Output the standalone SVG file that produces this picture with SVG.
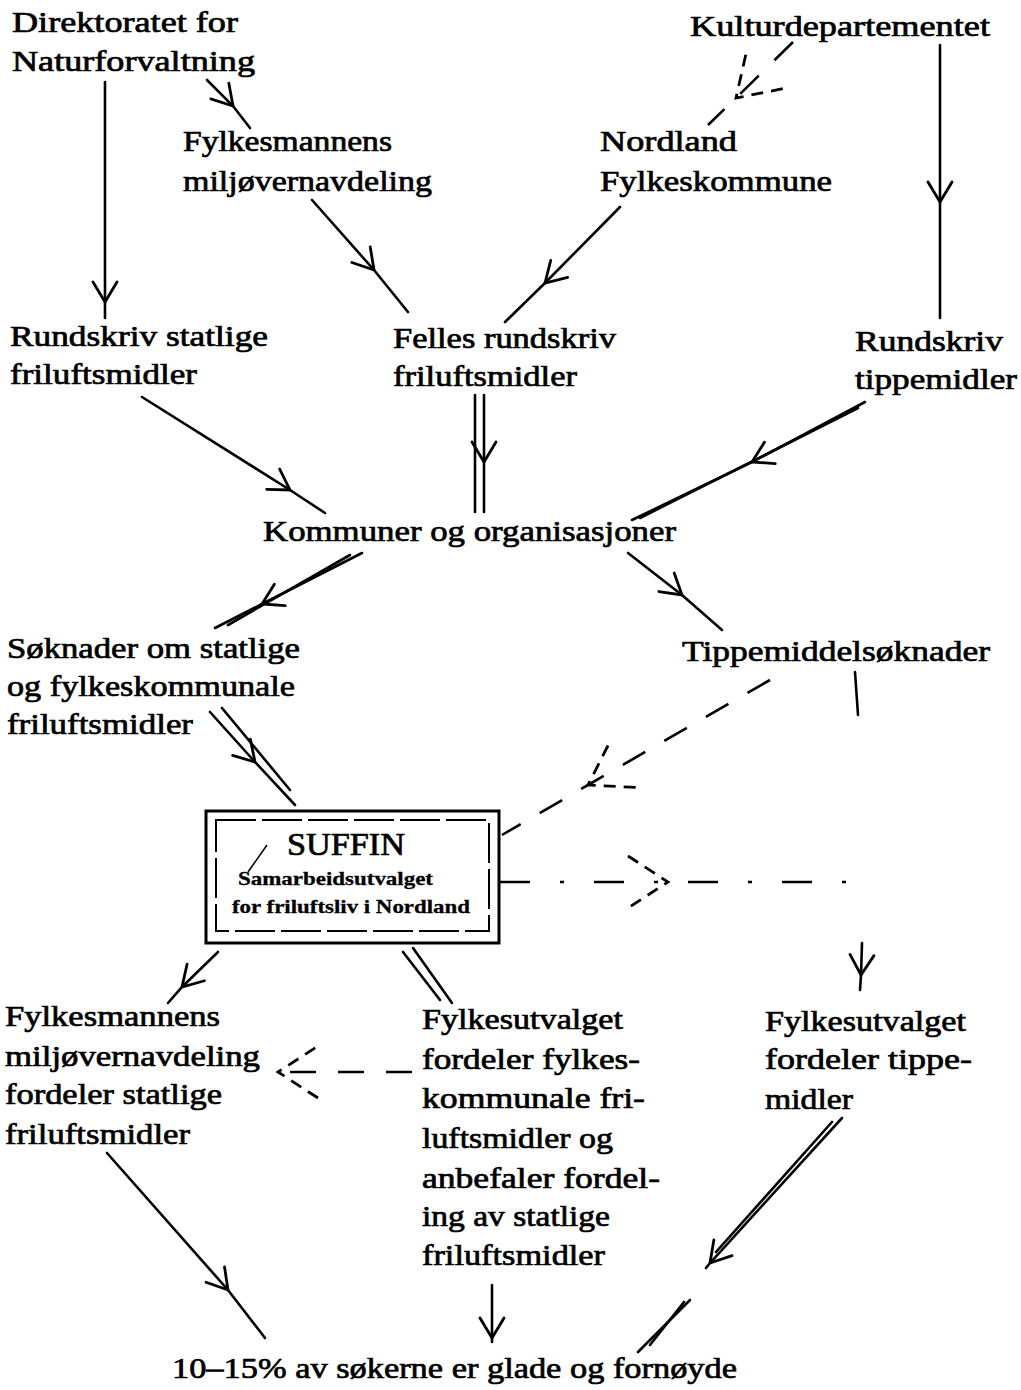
<svg xmlns="http://www.w3.org/2000/svg" width="1021" height="1390" viewBox="0 0 1021 1390">
<style>
  text { font-family: "Liberation Serif", "DejaVu Serif", serif; font-size: 29px; fill: #000; stroke: #000; stroke-width: 0.7; }
  .b { font-weight: bold; font-size: 19px; stroke-width: 0.3; }
  .big { font-size: 31px; }
  .ln { fill: none; stroke: #000; stroke-width: 2.6; stroke-linecap: round; }
  .ds { fill: none; stroke: #000; stroke-width: 2.6; stroke-dasharray: 26 22; }
  .dd { fill: none; stroke: #000; stroke-width: 2.6; stroke-dasharray: 30 30 4 30; }
  .a { marker-mid: url(#v); }
  .ad { marker-mid: url(#vd); }
</style>
<defs>
  <marker id="v" viewBox="-22 -16 26 32" markerWidth="26" markerHeight="32" refX="0" refY="0" orient="auto" markerUnits="userSpaceOnUse">
    <path d="M-20,-12 L0,0 L-20,12" fill="none" stroke="#000" stroke-width="2.8" stroke-linecap="round"/>
  </marker>
  <marker id="vd" viewBox="-46 -30 50 60" markerWidth="50" markerHeight="60" refX="0" refY="0" orient="auto" markerUnits="userSpaceOnUse">
    <path d="M-40,-26 L0,0 L-40,26" fill="none" stroke="#000" stroke-width="2.8" stroke-dasharray="12 8"/>
  </marker>
</defs>
<rect width="1021" height="1390" fill="#fff"/>

<g id="connectors">
  <polyline class="ln a" points="105,82 105,302 105,318"/>
  <polyline class="ln a" points="207,80 233,106 250,128"/>
  <polyline class="ds ad" points="793,42 736,98 708,125"/>
  <polyline class="ln a" points="940,45 940,202 940,318"/>
  <polyline class="ln a" points="312,200 374,270 408,312"/>
  <polyline class="ln a" points="620,207 545,283 505,322"/>
  <polyline class="ln a" points="142,397 290,490 325,513"/>
  <polyline class="ln a" points="484,395 484,462 484,512"/>
  <line class="ln" x1="475" y1="395" x2="475" y2="512"/>
  <polyline class="ln a" points="865,402 752,462 632,520"/>
  <line class="ln" x1="858" y1="408" x2="640" y2="518"/>
  <polyline class="ln a" points="362,553 262,604 215,628"/>
  <line class="ln" x1="350" y1="555" x2="228" y2="625"/>
  <polyline class="ln a" points="628,553 682,595 722,630"/>
  <polyline class="ln a" points="210,712 255,762 295,805"/>
  <line class="ln" x1="222" y1="708" x2="290" y2="790"/>
  <polyline class="ds ad" points="770,680 588,785 502,835"/>
  <line class="ln" x1="855" y1="672" x2="858" y2="715"/>
  <polyline class="dd ad" points="500,882 668,882 858,882"/>
  <polyline class="ln a" points="862,943 861,975 860,990"/>
  <polyline class="ln a" points="218,952 182,987 168,1003"/>
  <line class="ln" x1="403" y1="952" x2="440" y2="1000"/>
  <line class="ln" x1="413" y1="948" x2="452" y2="1003"/>
  <polyline class="ds ad" points="412,1072 278,1072 276,1072"/>
  <polyline class="ln a" points="107,1153 228,1290 265,1338"/>
  <polyline class="ln a" points="492,1285 492,1338 492,1342"/>
  <polyline class="ln a" points="842,1118 710,1263 706,1268"/>
  <line class="ln" x1="832" y1="1122" x2="716" y2="1252"/>
  <line class="ln" x1="690" y1="1300" x2="638" y2="1352"/>
  <line class="ln" x1="684" y1="1302" x2="650" y2="1345"/>
</g>

<g id="n-direktoratet">
  <text x="12" y="32" textLength="226" lengthAdjust="spacingAndGlyphs">Direktoratet for</text>
  <text x="12" y="71" textLength="243" lengthAdjust="spacingAndGlyphs">Naturforvaltning</text>
</g>
<g id="n-kulturdep">
  <text x="690" y="36" textLength="300" lengthAdjust="spacingAndGlyphs">Kulturdepartementet</text>
</g>
<g id="n-fylkesmannens">
  <text x="183" y="151" textLength="209" lengthAdjust="spacingAndGlyphs">Fylkesmannens</text>
  <text x="183" y="191" textLength="249" lengthAdjust="spacingAndGlyphs">miljøvernavdeling</text>
</g>
<g id="n-nordland">
  <text x="600" y="151" textLength="137" lengthAdjust="spacingAndGlyphs">Nordland</text>
  <text x="600" y="191" textLength="232" lengthAdjust="spacingAndGlyphs">Fylkeskommune</text>
</g>
<g id="n-rundskriv-statlige">
  <text x="10" y="346" textLength="258" lengthAdjust="spacingAndGlyphs">Rundskriv statlige</text>
  <text x="10" y="384" textLength="187" lengthAdjust="spacingAndGlyphs">friluftsmidler</text>
</g>
<g id="n-felles">
  <text x="393" y="348" textLength="223" lengthAdjust="spacingAndGlyphs">Felles rundskriv</text>
  <text x="393" y="386" textLength="184" lengthAdjust="spacingAndGlyphs">friluftsmidler</text>
</g>
<g id="n-rundskriv-tippe">
  <text x="855" y="351" textLength="148" lengthAdjust="spacingAndGlyphs">Rundskriv</text>
  <text x="855" y="389" textLength="162" lengthAdjust="spacingAndGlyphs">tippemidler</text>
</g>
<g id="n-kommuner">
  <text x="263" y="541" textLength="413" lengthAdjust="spacingAndGlyphs">Kommuner og organisasjoner</text>
</g>
<g id="n-soknader">
  <text x="7" y="658" textLength="293" lengthAdjust="spacingAndGlyphs">Søknader om statlige</text>
  <text x="7" y="696" textLength="288" lengthAdjust="spacingAndGlyphs">og fylkeskommunale</text>
  <text x="7" y="734" textLength="186" lengthAdjust="spacingAndGlyphs">friluftsmidler</text>
</g>
<g id="n-tippemiddelsoknader">
  <text x="682" y="661" textLength="308" lengthAdjust="spacingAndGlyphs">Tippemiddelsøknader</text>
</g>
<g id="n-suffin">
  <rect x="206" y="811" width="293" height="132" fill="none" stroke="#000" stroke-width="3"/>
  <rect x="216" y="820" width="273" height="111" fill="none" stroke="#000" stroke-width="2" stroke-dasharray="40 6"/>
  <line x1="248" y1="872" x2="267" y2="845" stroke="#000" stroke-width="1.5"/>
  <text class="big" x="287" y="855" textLength="118" lengthAdjust="spacingAndGlyphs">SUFFIN</text>
  <text class="b" x="238" y="885" textLength="195" lengthAdjust="spacingAndGlyphs">Samarbeidsutvalget</text>
  <text class="b" x="232" y="913" textLength="238" lengthAdjust="spacingAndGlyphs">for friluftsliv i Nordland</text>
</g>
<g id="n-fylkesmannens-fordeler">
  <text x="5" y="1026" textLength="215" lengthAdjust="spacingAndGlyphs">Fylkesmannens</text>
  <text x="5" y="1066" textLength="255" lengthAdjust="spacingAndGlyphs">miljøvernavdeling</text>
  <text x="5" y="1104" textLength="217" lengthAdjust="spacingAndGlyphs">fordeler statlige</text>
  <text x="5" y="1144" textLength="185" lengthAdjust="spacingAndGlyphs">friluftsmidler</text>
</g>
<g id="n-fylkesutvalget-fri">
  <text x="422" y="1029" textLength="201" lengthAdjust="spacingAndGlyphs">Fylkesutvalget</text>
  <text x="422" y="1069" textLength="218" lengthAdjust="spacingAndGlyphs">fordeler fylkes-</text>
  <text x="422" y="1108" textLength="223" lengthAdjust="spacingAndGlyphs">kommunale fri-</text>
  <text x="422" y="1148" textLength="191" lengthAdjust="spacingAndGlyphs">luftsmidler og</text>
  <text x="422" y="1188" textLength="238" lengthAdjust="spacingAndGlyphs">anbefaler fordel-</text>
  <text x="422" y="1226" textLength="188" lengthAdjust="spacingAndGlyphs">ing av statlige</text>
  <text x="422" y="1265" textLength="183" lengthAdjust="spacingAndGlyphs">friluftsmidler</text>
</g>
<g id="n-fylkesutvalget-tippe">
  <text x="765" y="1031" textLength="201" lengthAdjust="spacingAndGlyphs">Fylkesutvalget</text>
  <text x="765" y="1069" textLength="207" lengthAdjust="spacingAndGlyphs">fordeler tippe-</text>
  <text x="765" y="1109" textLength="88" lengthAdjust="spacingAndGlyphs">midler</text>
</g>
<g id="n-result">
  <text x="172" y="1378" textLength="565" lengthAdjust="spacingAndGlyphs">10–15% av søkerne er glade og fornøyde</text>
</g>
</svg>
